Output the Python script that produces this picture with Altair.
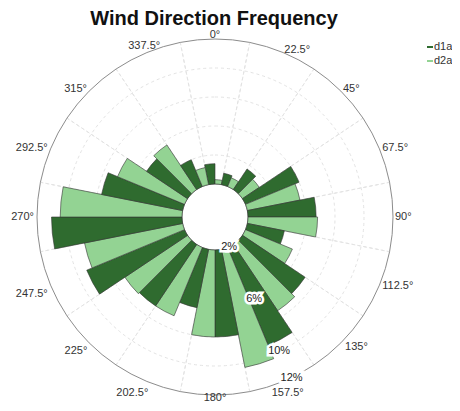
import altair as alt
import pandas as pd
import math

# ---------------- data ----------------
directions = [0, 22.5, 45, 67.5, 90, 112.5, 135, 157.5,
              180, 202.5, 225, 247.5, 270, 292.5, 315, 337.5]
d1a = [3.4, 2.8, 3.7, 6.0, 6.7, 4.6, 7.2, 9.3,
       8.0, 6.1, 7.1, 9.3, 11.0, 7.7, 5.4, 4.0]
d2a = [2.3, 2.65, 3.4, 5.7, 6.8, 5.5, 7.5, 10.3,
       8.0, 7.1, 7.2, 8.9, 10.4, 7.0, 5.7, 3.2]
series_names = ["d1a", "d2a"]
angle_labels = ["0°", "22.5°", "45°", "67.5°", "90°", "112.5°", "135°", "157.5°",
                "180°", "202.5°", "225°", "247.5°", "270°", "292.5°", "315°", "337.5°"]
grid_values = [4, 6, 8, 10]
axis_max = 12
hole_value = 2
radial_ticks = [2, 6, 10, 12]
radial_labels = ["2%", "6%", "10%", "12%"]
title_text = "Wind Direction Frequency"

HALF = 11.25
CX, CY = 207, 209
FONT = "Liberation Sans"
DARK = "#2f6b2f"
LIGHT = "#93d393"
GRID = "#e3e3e3"

rows = []
for i, d in enumerate(directions):
    s = (d - HALF) % 360
    rows.append({"series": "d1a", "value": d1a[i], "r0": hole_value,
                 "t0": s, "t1": s + HALF})
    rows.append({"series": "d2a", "value": d2a[i], "r0": hole_value,
                 "t0": d, "t1": d + HALF})
bars = pd.DataFrame(rows)

theta_scale = alt.Scale(type="linear", domain=[0, 360], range=[0, 2 * math.pi])
radius_scale = alt.Scale(type="linear", domain=[0, 12], range=[4, 178], zero=False)
color_scale = alt.Scale(domain=series_names, range=[DARK, LIGHT])
pos = dict(x=alt.value(CX), y=alt.value(CY))


def circles(values, **style):
    df = pd.DataFrame({"r": values, "t0": [0] * len(values), "t1": [360] * len(values)})
    return alt.Chart(df).mark_arc(innerRadius=0, **style).encode(
        theta=alt.Theta("t0:Q", scale=theta_scale), theta2="t1:Q",
        radius=alt.Radius("r:Q", scale=radius_scale), **pos)


grid = circles(grid_values, filled=False, stroke=GRID, strokeDash=[3, 3], strokeWidth=1)

spoke_df = pd.DataFrame({"t0": [d + HALF for d in directions]})
spoke_df["t1"] = spoke_df["t0"]
spoke_df["r"] = axis_max
spoke_df["r0"] = hole_value
spokes = alt.Chart(spoke_df).mark_arc(
    filled=False, stroke=GRID, strokeDash=[3, 3], strokeWidth=1
).encode(
    theta=alt.Theta("t0:Q", scale=theta_scale), theta2="t1:Q",
    radius=alt.Radius("r:Q", scale=radius_scale), radius2="r0:Q", **pos)

outer = circles([axis_max], filled=False, stroke="#8c8c8c", strokeWidth=1)
hole = circles([hole_value], filled=True, fill="white", stroke="#9a9a9a", strokeWidth=1)

bar_layer = alt.Chart(bars).mark_arc(stroke="#333333", strokeWidth=0.6).encode(
    theta=alt.Theta("t0:Q", scale=theta_scale), theta2="t1:Q",
    radius=alt.Radius("value:Q", scale=radius_scale), radius2="r0:Q",
    color=alt.Color("series:N", scale=color_scale, legend=None),
    **pos)

# angle label placement: (align, radius px, dx, dy, baseline)
placement = {
    0: ("center", 182, 0, 0, "middle"),
    22.5: ("left", 181, 0, 0, "middle"),
    45: ("left", 181, 0, 0, "middle"),
    67.5: ("left", 181, 0, 0, "middle"),
    90: ("left", 180, 0, 0, "middle"),
    112.5: ("left", 181, 0, 0, "middle"),
    135: ("left", 184, 0, 0, "middle"),
    157.5: ("center", 190, 0, 0, "middle"),
    180: ("center", 181, 0, 0, "middle"),
    202.5: ("right", 190, 6, 0, "middle"),
    225: ("right", 189, 6, 0, "middle"),
    247.5: ("right", 181, 0, 8, "middle"),
    270: ("right", 181, 0, 0, "middle"),
    292.5: ("right", 181, 0, 0, "middle"),
    315: ("right", 181, 0, 0, "middle"),
    337.5: ("center", 185, 0, 0, "middle"),
}
label_layers = []
for a, t in zip(directions, angle_labels):
    al, r, dx, dy, bl = placement[a]
    df = pd.DataFrame({"a": [a], "t": [t]})
    label_layers.append(alt.Chart(df).mark_text(
        align=al, baseline=bl, dx=dx, dy=dy, font=FONT, fontSize=11, color="#333333"
    ).encode(theta=alt.Theta("a:Q", scale=theta_scale), radius=alt.value(r),
             text="t:N", **pos))

rl = pd.DataFrame({"v": radial_ticks, "t": radial_labels, "a": [154.5] * len(radial_ticks)})
rl_halo = alt.Chart(rl).mark_text(
    font=FONT, fontSize=11, color="white", stroke="white", strokeWidth=5,
    strokeJoin="miter", baseline="middle"
).encode(theta=alt.Theta("a:Q", scale=theta_scale),
         radius=alt.Radius("v:Q", scale=radius_scale), text="t:N", **pos)
rl_text = alt.Chart(rl).mark_text(
    font=FONT, fontSize=11, color="#222222", baseline="middle"
).encode(theta=alt.Theta("a:Q", scale=theta_scale),
         radius=alt.Radius("v:Q", scale=radius_scale), text="t:N", **pos)

title = alt.Chart(pd.DataFrame({"t": [title_text]})).mark_text(
    font=FONT, fontSize=20, fontWeight="bold", color="#111111",
    align="center", baseline="alphabetic"
).encode(text="t:N", x=alt.value(206), y=alt.value(17))

# manual legend (line swatch + label)
leg_df = pd.DataFrame({"name": series_names})
leg_y = alt.Y("name:N", scale=alt.Scale(type="point", domain=series_names,
                                         range=[39, 53], padding=0), axis=None)
leg_lines = alt.Chart(leg_df).mark_rule(strokeWidth=2).encode(
    x=alt.value(419), x2=alt.value(425), y=leg_y,
    color=alt.Color("name:N", scale=color_scale, legend=None))
leg_text = alt.Chart(leg_df).mark_text(
    align="left", baseline="middle", font=FONT, fontSize=11, color="#333333"
).encode(x=alt.value(426), y=leg_y, text="name:N")

chart = alt.layer(
    grid, spokes, outer, hole, bar_layer, *label_layers,
    rl_halo, rl_text, title, leg_lines, leg_text
).properties(
    width=444, height=395, padding=0,
    autosize=alt.AutoSizeParams(type="none")
).configure_view(stroke=None)

chart.save("out.html", embed_options={"renderer": "svg", "actions": False})
